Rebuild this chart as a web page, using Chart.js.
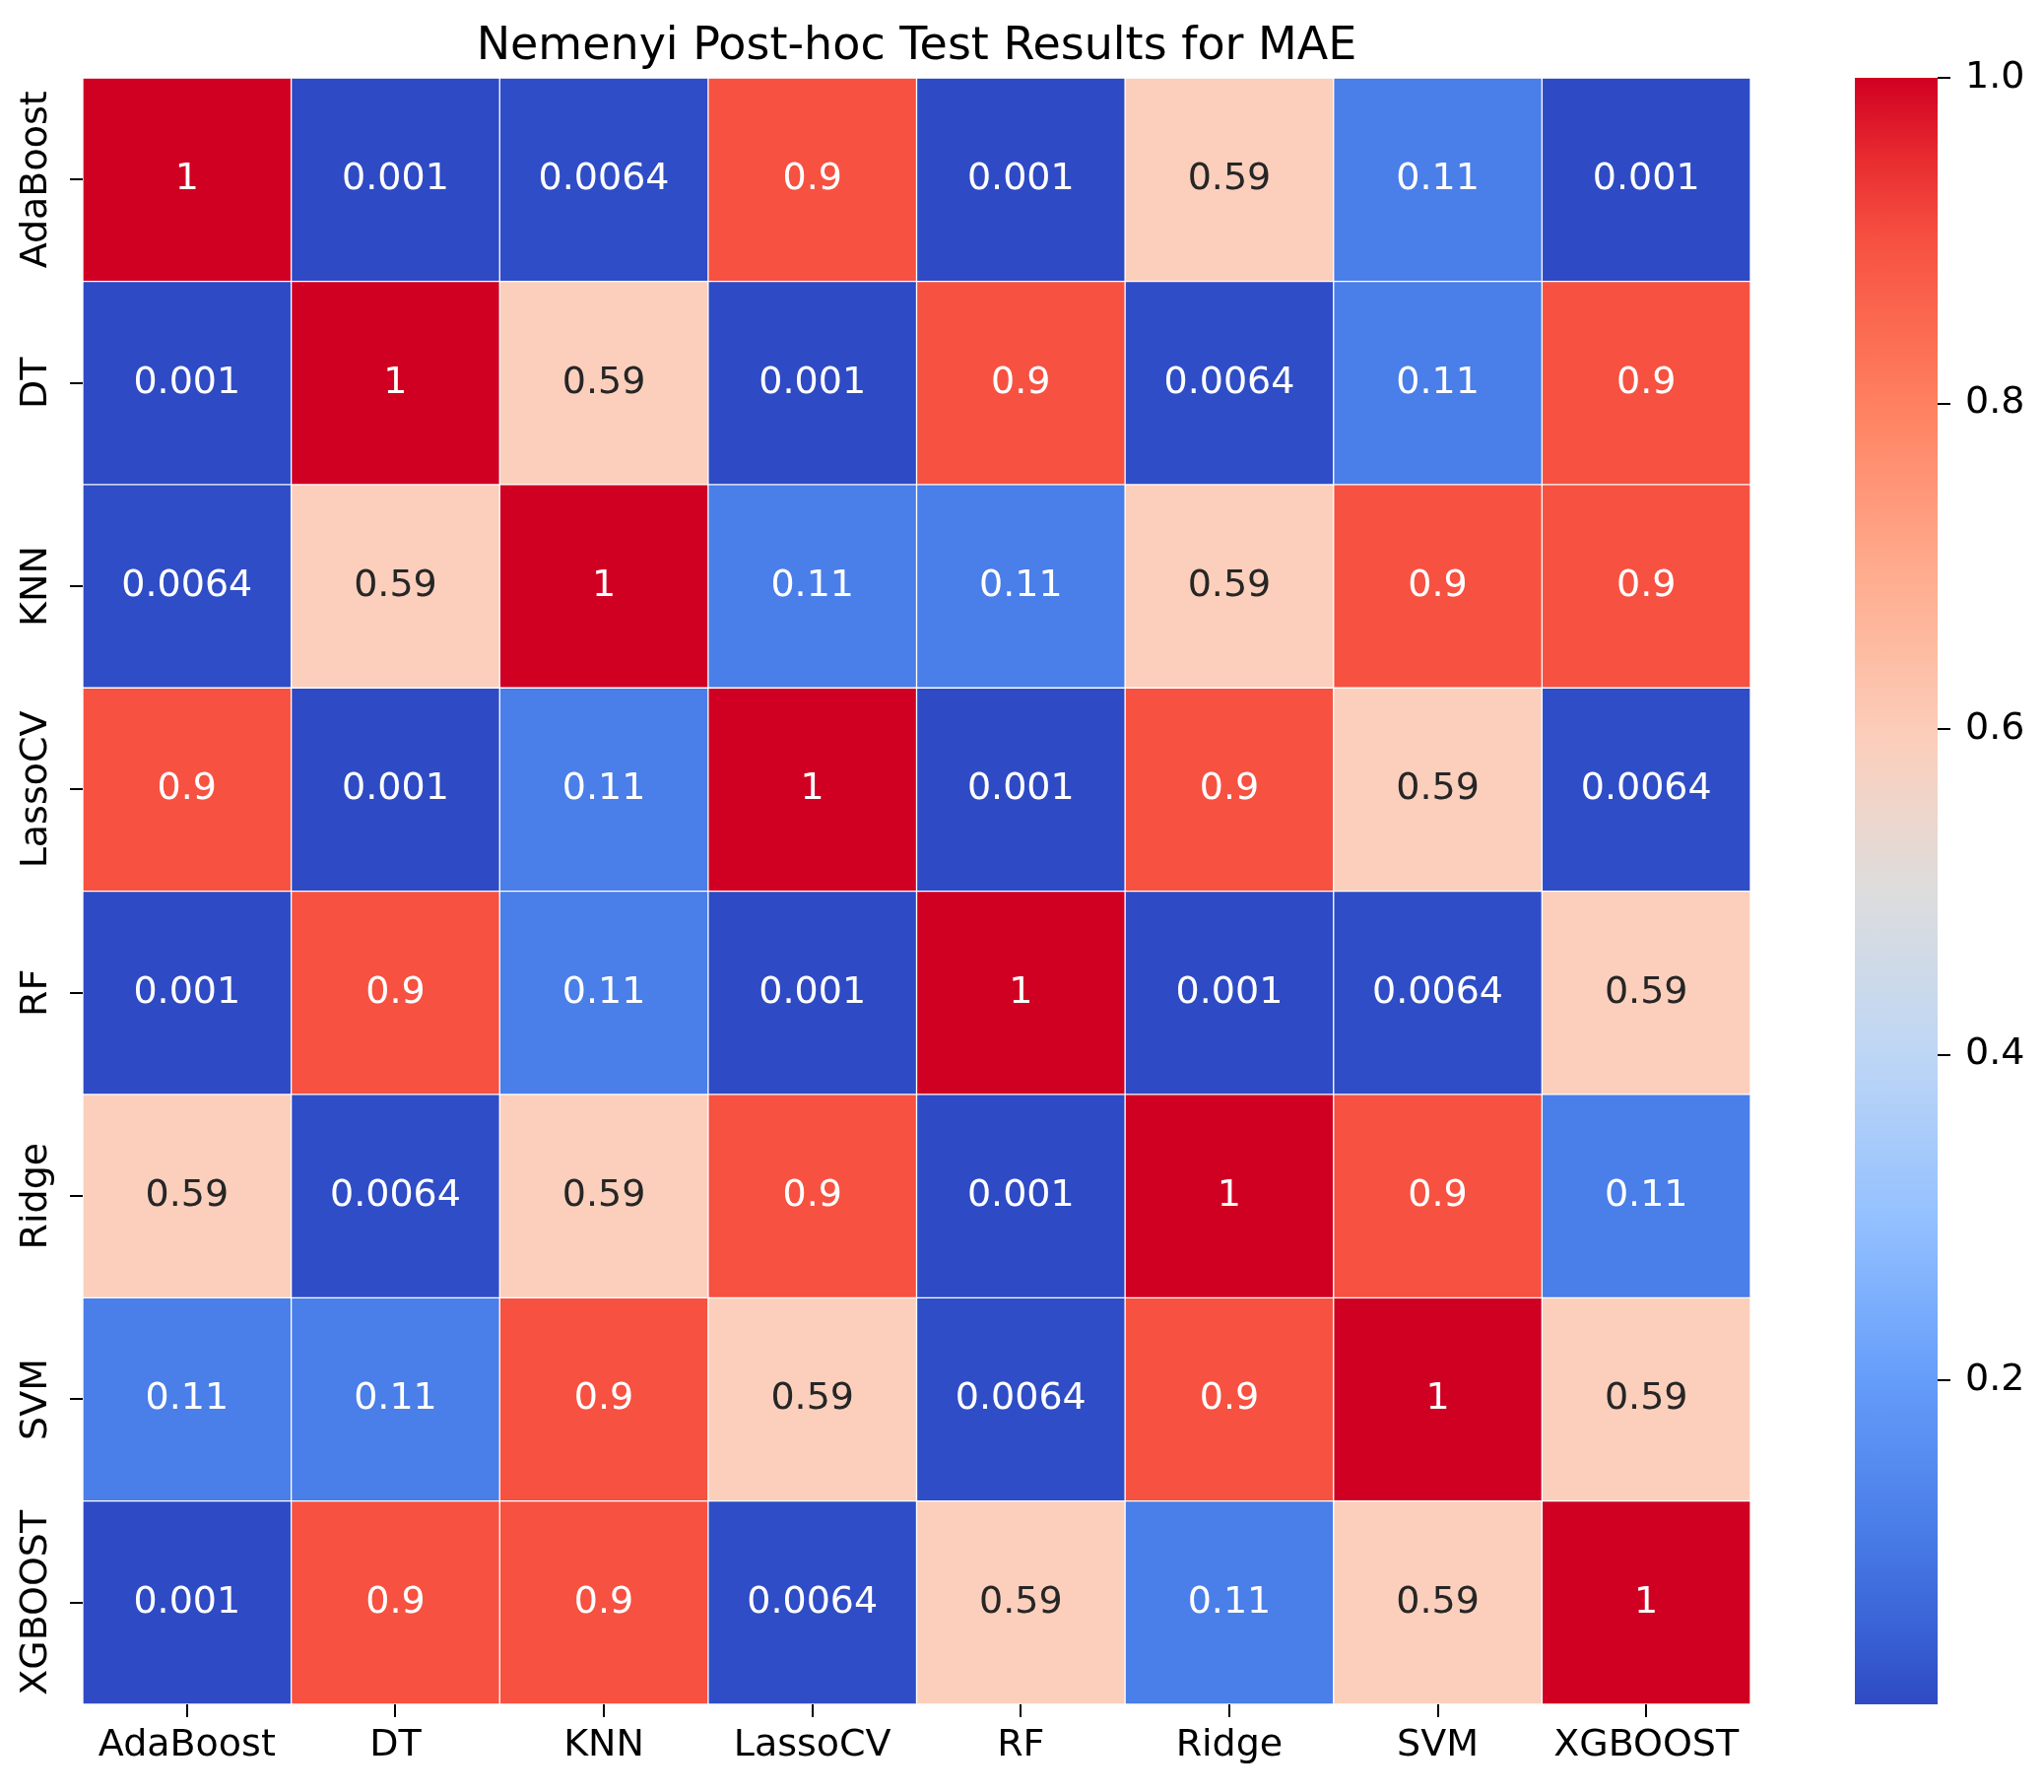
<!DOCTYPE html>
<html>
<head>
<meta charset="utf-8">
<title>Nemenyi Post-hoc Test Results for MAE</title>
<script src="https://cdn.jsdelivr.net/npm/chart.js@4.4.1/dist/chart.umd.min.js"></script>
<style>
  html, body { margin: 0; padding: 0; background: #fff; }
  #wrap { position: relative; width: 2075px; height: 1819px; }
  #heat { position: absolute; left: 0; top: 0; }
  #cbar { position: absolute; left: 1861px; top: 0; }
</style>
</head>
<body>
<div id="wrap">
  <canvas id="heat" width="1861" height="1819"></canvas>
  <canvas id="cbar" width="214" height="1819"></canvas>
</div>
<script>
// --- data: Nemenyi p-values, one array per model (row) ---
const models = ['AdaBoost', 'DT', 'KNN', 'LassoCV', 'RF', 'Ridge', 'SVM', 'XGBOOST'];
const rowAdaBoost = [1, 0.001, 0.0064, 0.9, 0.001, 0.59, 0.11, 0.001];
const rowDT       = [0.001, 1, 0.59, 0.001, 0.9, 0.0064, 0.11, 0.9];
const rowKNN      = [0.0064, 0.59, 1, 0.11, 0.11, 0.59, 0.9, 0.9];
const rowLassoCV  = [0.9, 0.001, 0.11, 1, 0.001, 0.9, 0.59, 0.0064];
const rowRF       = [0.001, 0.9, 0.11, 0.001, 1, 0.001, 0.0064, 0.59];
const rowRidge    = [0.59, 0.0064, 0.59, 0.9, 0.001, 1, 0.9, 0.11];
const rowSVM      = [0.11, 0.11, 0.9, 0.59, 0.0064, 0.9, 1, 0.59];
const rowXGBOOST  = [0.001, 0.9, 0.9, 0.0064, 0.59, 0.11, 0.59, 1];
const pValues = [rowAdaBoost, rowDT, rowKNN, rowLassoCV, rowRF, rowRidge, rowSVM, rowXGBOOST];
const colorbarTicks = [0.2, 0.4, 0.6, 0.8, 1.0];

const vMin = Math.min(...pValues.flat());
const vMax = Math.max(...pValues.flat());

// coolwarm-like colour ramp (as it looks in the figure)
const cmapStops = [
    [0.00, [46, 74, 196]],
    [0.05, [58, 100, 215]],
    [0.11, [74, 126, 232]],
    [0.20, [101, 157, 250]],
    [0.30, [148, 193, 255]],
    [0.40, [190, 214, 245]],
    [0.50, [221, 221, 221]],
    [0.59, [251, 207, 188]],
    [0.70, [255, 170, 140]],
    [0.80, [255, 128, 96]],
    [0.90, [247, 81, 65]],
    [0.95, [232, 44, 48]],
    [1.00, [208, 0, 34]]
];
const FONT = "'DejaVu Sans', sans-serif";
const LABEL_SIZE = 38;

function cmap(v) {
    const t = Math.max(0, Math.min(1, (v - vMin) / (vMax - vMin)));
    for (let k = 1; k < cmapStops.length; k++) {
        const [t1, c1] = cmapStops[k];
        const [t0, c0] = cmapStops[k - 1];
        if (t <= t1) {
            const f = (t - t0) / (t1 - t0);
            return c0.map((c, i) => Math.round(c + (c1[i] - c) * f));
        }
    }
    return cmapStops[cmapStops.length - 1][1];
}
const rgb = c => `rgb(${c[0]},${c[1]},${c[2]})`;

// seaborn picks dark or white annotation text from luminance
function textColor(c) {
    const lin = c.map(x => {
        x /= 255;
        return x <= 0.03928 ? x / 12.92 : Math.pow((x + 0.055) / 1.055, 2.4);
    });
    const lum = 0.2126 * lin[0] + 0.7152 * lin[1] + 0.0722 * lin[2];
    return lum > 0.408 ? '#262626' : '#ffffff';
}
const fmt = v => String(Number(v.toPrecision(2)));

// --- heatmap: one floating-bar dataset per row ---
const datasets = pValues.map((row, i) => ({
    label: models[i],
    data: row.map(() => [i, i + 1]),
    values: row,
    backgroundColor: row.map(v => rgb(cmap(v))),
    borderColor: 'rgba(255,255,255,0.15)',
    borderWidth: 1,
    borderSkipped: false,
    grouped: false,
    barPercentage: 1,
    categoryPercentage: 1
}));

const annotate = {
    id: 'annotate',
    afterDatasetsDraw(chart) {
        const ctx = chart.ctx;
        ctx.save();
        ctx.font = `${LABEL_SIZE}px ${FONT}`;
        ctx.textAlign = 'center';
        ctx.textBaseline = 'middle';
        chart.data.datasets.forEach((ds, i) => {
            chart.getDatasetMeta(i).data.forEach((bar, j) => {
                const v = ds.values[j];
                ctx.fillStyle = textColor(cmap(v));
                ctx.fillText(fmt(v), bar.x, (bar.y + bar.base) / 2);
            });
        });
        ctx.restore();
    }
};

// rotated row labels on the left
const rowLabels = {
    id: 'rowLabels',
    afterDraw(chart) {
        const ctx = chart.ctx;
        const y = chart.scales.y;
        ctx.save();
        ctx.font = `${LABEL_SIZE}px ${FONT}`;
        ctx.fillStyle = '#000';
        ctx.textAlign = 'center';
        ctx.textBaseline = 'middle';
        models.forEach((m, i) => {
            ctx.save();
            ctx.translate(37, y.getPixelForValue(i + 0.5));
            ctx.rotate(-Math.PI / 2);
            ctx.fillText(m, 0, 0);
            ctx.restore();
        });
        ctx.restore();
    }
};

new Chart(document.getElementById('heat'), {
    type: 'bar',
    data: { labels: models, datasets: datasets },
    options: {
        responsive: false,
        animation: false,
        devicePixelRatio: 1,
        layout: { padding: 0 },
        plugins: {
            legend: { display: false },
            tooltip: { enabled: false },
            title: {
                display: true,
                text: 'Nemenyi Post-hoc Test Results for MAE',
                color: '#000',
                font: { family: FONT, size: 46, weight: 'normal' },
                padding: { top: 20, bottom: 4 }
            }
        },
        scales: {
            x: {
                type: 'category',
                border: { display: false },
                grid: {
                    display: true, drawOnChartArea: false, drawTicks: true,
                    tickLength: 13, color: '#000', lineWidth: 2, offset: false
                },
                ticks: { color: '#000', padding: 6, font: { family: FONT, size: LABEL_SIZE }, maxRotation: 0 },
                afterFit(scale) { scale.height = 89; }
            },
            y: {
                type: 'linear',
                reverse: true,
                min: 0,
                max: models.length,
                border: { display: false },
                grid: {
                    display: true, drawOnChartArea: false, drawTicks: true,
                    tickLength: 13, color: '#000', lineWidth: 2
                },
                ticks: { display: false },
                afterBuildTicks(scale) {
                    scale.ticks = models.map((m, i) => ({ value: i + 0.5 }));
                },
                afterFit(scale) { scale.width = 84; }
            },
            // empty right-hand axis keeps the heatmap centred under the title
            spacer: {
                type: 'linear',
                position: 'right',
                border: { display: false },
                grid: { display: false },
                ticks: { display: false },
                afterFit(scale) { scale.width = 84; }
            }
        }
    },
    plugins: [annotate, rowLabels]
});

// --- colour bar ---
new Chart(document.getElementById('cbar'), {
    type: 'bar',
    data: {
        labels: ['p'],
        datasets: [{
            data: [[vMin, vMax]],
            borderWidth: 0,
            barPercentage: 1,
            categoryPercentage: 1,
            backgroundColor(c) {
                const chart = c.chart;
                if (!chart.chartArea) return null;
                const y = chart.scales.y;
                const g = chart.ctx.createLinearGradient(0, y.getPixelForValue(vMin), 0, y.getPixelForValue(vMax));
                cmapStops.forEach(s => g.addColorStop(s[0], rgb(s[1])));
                return g;
            }
        }]
    },
    options: {
        responsive: false,
        animation: false,
        devicePixelRatio: 1,
        layout: { padding: { left: 22, right: 0, top: 79, bottom: 89 } },
        plugins: { legend: { display: false }, tooltip: { enabled: false } },
        scales: {
            x: { display: false },
            y: {
                type: 'linear',
                position: 'right',
                min: vMin,
                max: vMax,
                border: { display: false },
                grid: {
                    display: true, drawOnChartArea: false, drawTicks: true,
                    tickLength: 13, color: '#000', lineWidth: 2
                },
                ticks: {
                    color: '#000', padding: 15, font: { family: FONT, size: LABEL_SIZE },
                    callback: v => v.toFixed(1)
                },
                afterBuildTicks(scale) {
                    scale.ticks = colorbarTicks.map(v => ({ value: v }));
                },
                afterFit(scale) { scale.width = 108; }
            }
        }
    }
});
</script>
</body>
</html>
